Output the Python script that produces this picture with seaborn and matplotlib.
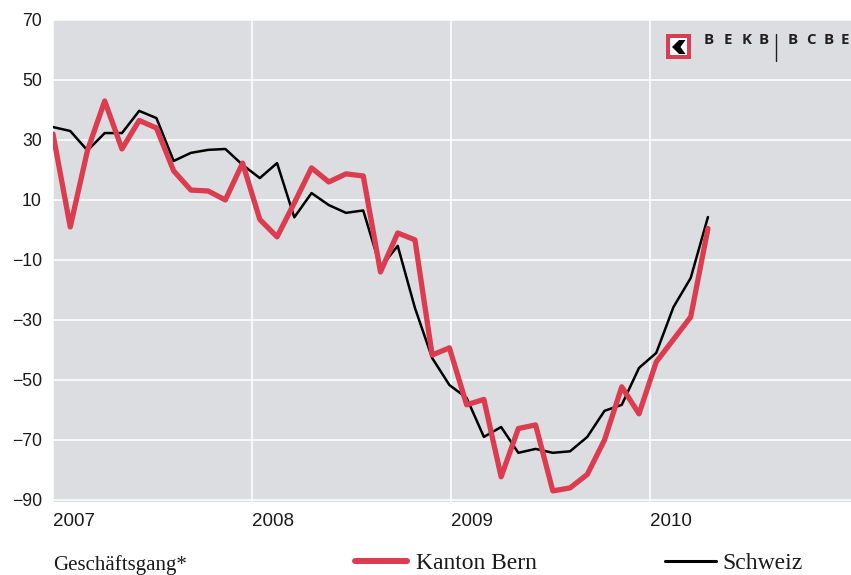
import numpy as np
import pandas as pd
import matplotlib.pyplot as plt
import seaborn as sns
from matplotlib.lines import Line2D
from matplotlib.patches import Rectangle, Polygon

# Monatswerte Jan 2007 - Mar 2010 (Saldo)
monat = np.arange(39)
kanton_bern = [32, 1, 26.5, 43, 27, 36.5, 34, 19.7, 13.3, 13, 10, 22.3, 3.5, -2.3,
               9, 20.7, 16, 18.7, 18, -14, -1, -3.3, -41.7, -39.3, -58.3, -56.5,
               -82.3, -66.2, -65, -87, -86, -81.5, -70, -52.3, -61.3, -44, -36.5,
               -29, 0.5]
schweiz = [34.3, 33, 26.5, 32.3, 32.3, 39.7, 37.3, 23, 25.7, 26.7, 27, 21.7, 17.3,
           22.3, 4.2, 12.3, 8.3, 5.7, 6.5, -12.5, -5.3, -26, -42.7, -51.7, -56,
           -69, -65.7, -74.3, -73, -74.3, -73.8, -69, -60.3, -58.3, -46, -41,
           -25.7, -16, 4.3]
jahre = ['2007', '2008', '2009', '2010']
y_ticks = [70, 50, 30, 10, -10, -30, -50, -70, -90]

df = pd.DataFrame({'monat': monat, 'Kanton Bern': kanton_bern, 'Schweiz': schweiz})

ROT = '#db3c4f'
GRAU = '#dcdde0'

sns.set_style('darkgrid', {'axes.facecolor': GRAU, 'grid.color': 'white'})
plt.rcParams['font.family'] = ['Liberation Sans', 'DejaVu Sans']

W, H = 851, 575
fig = plt.figure(figsize=(W / 100, H / 100), dpi=100)
ax = fig.add_axes([53 / W, 73 / H, 798 / W, 482 / H])


def px(x, y):
    # pixel -> figure coords
    return x / W, 1 - y / H


sns.lineplot(data=df, x='monat', y='Schweiz', color='black', lw=1.8, ax=ax, zorder=3)
sns.lineplot(data=df, x='monat', y='Kanton Bern', color=ROT, lw=3.8, ax=ax, zorder=4)

jahr_schritt = 11.55
ax.set_xlim(0, 4 * jahr_schritt + 0.1)
ax.set_ylim(-90.7, 70)
ax.set_xticks(np.arange(len(jahre)) * jahr_schritt)
ax.set_xticklabels(jahre, fontsize=13.5, ha='left', color='#1a1a1a')
ax.set_yticks(y_ticks)
ax.set_yticklabels([str(v).replace('-', '\u2212') for v in y_ticks], fontsize=12.7,
                   color='#1a1a1a')
ax.tick_params(axis='both', length=0)
ax.tick_params(axis='y', pad=8)
ax.tick_params(axis='x', pad=8)
ax.grid(True, color='white', lw=1.1)
ax.set_xlabel('')
ax.set_ylabel('')
for s in ax.spines.values():
    s.set_visible(False)

# Logo BEKB | BCBE
x0, y0 = px(666, 59)
fig.add_artist(Rectangle((x0, y0), 25 / W, 25 / H, transform=fig.transFigure,
                         facecolor=ROT, edgecolor='none', zorder=5))
x1, y1 = px(670, 55)
fig.add_artist(Rectangle((x1, y1), 17 / W, 17 / H, transform=fig.transFigure,
                         facecolor='white', edgecolor='none', zorder=6))
chevron = [px(672, 47), px(679, 40), px(685.5, 40), px(680.5, 47), px(685.5, 54), px(679, 54)]
fig.add_artist(Polygon(chevron, closed=True, transform=fig.transFigure,
                       facecolor='black', edgecolor='none', zorder=7))
logo_font = dict(ha='center', va='center', fontsize=10.8, fontweight='bold',
                 family=['Open Sans', 'DejaVu Sans'], color='#231f20')
for buchst, xp in zip('BEKB', [709, 728, 747, 764]):
    fig.text(*px(xp, 40), buchst, **logo_font)
for buchst, xp in zip('BCBE', [793, 811, 829, 845]):
    fig.text(*px(xp, 40), buchst, **logo_font)
fig.add_artist(Line2D([776 / W, 776 / W], [1 - 34 / H, 1 - 61 / H], color='#231f20',
                      lw=1, transform=fig.transFigure))

# Legende unten
serif = ['Liberation Serif', 'DejaVu Serif']
fig.text(*px(53, 570), 'Geschäftsgang*', ha='left', va='baseline', fontsize=15,
         family=serif, color='#1a1a1a')
fig.add_artist(Line2D([355 / W, 407 / W], [1 - 561 / H] * 2, color=ROT, lw=4.3,
                      transform=fig.transFigure))
fig.text(*px(416, 569), 'Kanton Bern', ha='left', va='baseline', fontsize=17,
         family=serif, color='#1a1a1a')
fig.add_artist(Line2D([665 / W, 716 / W], [1 - 561 / H] * 2, color='black', lw=2.2,
                      transform=fig.transFigure))
fig.text(*px(722, 569), 'Schweiz', ha='left', va='baseline', fontsize=17,
         family=serif, color='#1a1a1a')

fig.savefig('out.png', dpi=100)
